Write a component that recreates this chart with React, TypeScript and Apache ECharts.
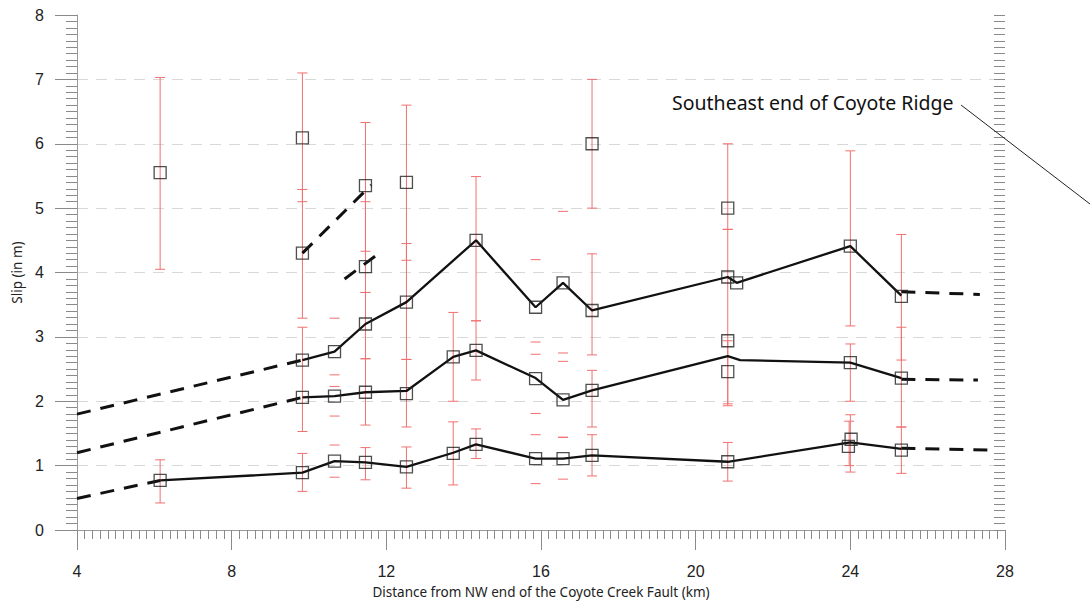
import React, { useEffect, useRef } from "react";
import * as echarts from "echarts";

// Solid profile lines (km, slip m)
const xTop = [9.83, 10.66, 11.46, 12.52, 14.32, 15.86, 16.57, 17.32, 20.83, 21.06, 24.0, 25.32];
const yTop = [2.64, 2.77, 3.2, 3.54, 4.5, 3.46, 3.84, 3.41, 3.93, 3.84, 4.41, 3.64];
const xMid = [9.83, 10.66, 11.46, 12.52, 13.73, 14.32, 15.86, 16.57, 17.32, 20.83, 21.15, 24.0, 25.32];
const yMid = [2.06, 2.08, 2.14, 2.16, 2.69, 2.79, 2.36, 2.02, 2.17, 2.7, 2.64, 2.6, 2.36];
const xLow = [6.15, 9.83, 10.66, 11.46, 12.52, 13.73, 14.32, 15.86, 16.57, 17.32, 20.83, 24.0, 25.32];
const yLow = [0.77, 0.89, 1.07, 1.05, 0.98, 1.2, 1.33, 1.11, 1.11, 1.16, 1.06, 1.36, 1.26];

// Dashed extrapolations: [x0, y0, x1, y1]
const dashedSegments = [
  [4, 1.8, 9.83, 2.64],
  [4, 1.2, 9.83, 2.06],
  [4, 0.49, 6.15, 0.77],
  [25.32, 3.7, 27.35, 3.66],
  [25.32, 2.34, 27.3, 2.33],
  [25.32, 1.27, 27.75, 1.24],
  [9.83, 4.3, 11.61, 5.36],
  [10.92, 3.9, 11.77, 4.28],
];

// Measured offsets (squares)
const squareX = [
  6.15, 6.15,
  9.83, 9.83, 9.83, 9.83, 9.83,
  10.66, 10.66, 10.66,
  11.46, 11.46, 11.46, 11.46, 11.46,
  12.52, 12.52, 12.52, 12.52,
  13.73, 13.73,
  14.32, 14.32, 14.32,
  15.86, 15.86, 15.86,
  16.57, 16.57, 16.57,
  17.32, 17.32, 17.32, 17.32,
  20.83, 20.83, 20.83, 20.83, 20.83,
  21.06,
  24.0, 24.0, 24.02, 23.95,
  25.32, 25.32, 25.32,
];
const squareY = [
  5.55, 0.77,
  6.09, 4.3, 2.64, 2.06, 0.89,
  2.77, 2.08, 1.07,
  5.35, 4.09, 3.2, 2.14, 1.05,
  5.4, 3.54, 2.12, 0.98,
  2.69, 1.19,
  4.5, 2.79, 1.33,
  3.46, 2.35, 1.11,
  3.84, 2.02, 1.11,
  6.0, 3.41, 2.17, 1.16,
  5.0, 3.93, 2.94, 2.46, 1.06,
  3.84,
  4.41, 2.6, 1.41, 1.3,
  3.63, 2.36, 1.24,
];

// Error bars: [x, low, high, drawVerticalLine (1) or caps only (0)]
const errorBars = [
  [6.15, 4.05, 7.03, 1], [6.15, 0.42, 1.09, 1],
  [9.83, 5.1, 7.1, 1], [9.83, 3.29, 5.29, 1], [9.83, 1.53, 3.15, 1], [9.83, 0.6, 1.19, 1],
  [10.66, 2.23, 3.29, 0], [10.66, 1.77, 2.41, 0], [10.66, 0.82, 1.32, 0],
  [11.46, 4.33, 6.33, 1], [11.46, 3.69, 5.1, 1], [11.46, 2.66, 3.69, 1], [11.46, 1.63, 2.66, 1], [11.46, 0.78, 1.28, 1],
  [12.52, 4.19, 6.6, 1], [12.52, 2.65, 4.45, 1], [12.52, 1.6, 2.65, 1], [12.52, 0.65, 1.29, 1],
  [13.73, 2.0, 3.38, 1], [13.73, 0.7, 1.68, 1],
  [14.32, 3.25, 5.49, 1], [14.32, 2.33, 3.25, 1], [14.32, 1.11, 1.57, 1],
  [15.86, 2.92, 4.2, 0], [15.86, 1.81, 2.73, 0], [15.86, 0.72, 1.48, 0],
  [16.57, 2.75, 4.95, 0], [16.57, 1.44, 2.62, 0], [16.57, 0.79, 1.44, 0],
  [17.32, 5.0, 7.0, 1], [17.32, 2.72, 4.29, 1], [17.32, 1.6, 2.48, 1], [17.32, 0.84, 1.48, 1],
  [20.83, 4.67, 6.0, 1], [20.83, 1.96, 4.67, 1], [20.83, 1.93, 2.94, 1], [20.83, 0.76, 1.36, 1],
  [24.0, 3.17, 5.89, 1], [24.0, 2.0, 2.89, 1], [24.0, 0.9, 1.79, 1], [23.97, 1.0, 1.69, 1],
  [25.32, 2.64, 4.59, 1], [25.32, 1.6, 3.15, 1], [25.32, 0.88, 1.6, 1],
];

const xTicks = [4, 8, 12, 16, 20, 24, 28];
const yTicks = [0, 1, 2, 3, 4, 5, 6, 7, 8];

const RED = "#f07070";
const TICK = "#8a8a8a";

export default function App() {
  const ref = useRef<HTMLDivElement>(null);
  useEffect(() => {
    if (!ref.current) return;
    const chart = echarts.init(ref.current, undefined, { renderer: "svg" });

    const solid = (xs: number[], ys: number[]) => ({
      type: "line",
      data: xs.map((x, i) => [x, ys[i]]),
      symbol: "none",
      lineStyle: { color: "#111", width: 2.3 },
      z: 3,
      silent: true,
    });

    const dashed = dashedSegments.map((s) => ({
      type: "line",
      data: [[s[0], s[1]], [s[2], s[3]]],
      symbol: "none",
      lineStyle: { color: "#111", width: 3, type: [14, 10] },
      z: 3,
      silent: true,
    }));

    const option: any = {
      animation: false,
      backgroundColor: "#fff",
      grid: { left: 77, right: 85, top: 15, bottom: 72 },
      xAxis: [
        {
          type: "value",
          position: "bottom",
          min: xTicks[0],
          max: xTicks[xTicks.length - 1],
          interval: 4,
          name: "Distance from NW end of the Coyote Creek Fault (km)",
          nameLocation: "middle",
          nameGap: 55,
          nameTextStyle: { fontFamily: "Noto Sans", fontSize: 13.5, color: "#222" },
          axisLine: { show: true, lineStyle: { color: "#999", width: 1 } },
          axisTick: { show: true, length: 20, lineStyle: { color: TICK } },
          minorTick: { show: true, splitNumber: 20, length: 9, lineStyle: { color: TICK } },
          axisLabel: { margin: 33, fontFamily: "Liberation Sans", fontSize: 16, color: "#222" },
          splitLine: { show: false },
        },
        {
          type: "value",
          position: "top",
          min: xTicks[0],
          max: xTicks[xTicks.length - 1],
          interval: 4,
          axisLine: { show: false },
          axisTick: { show: true, inside: true, length: 18, lineStyle: { color: TICK } },
          minorTick: { show: true, splitNumber: 20, length: 9, lineStyle: { color: TICK } },
          axisLabel: { show: false },
          splitLine: { show: false },
        },
      ],
      yAxis: [
        {
          type: "value",
          position: "left",
          min: yTicks[0],
          max: yTicks[yTicks.length - 1],
          interval: 1,
          name: "Slip (in m)",
          nameLocation: "middle",
          nameGap: 52,
          nameRotate: 90,
          nameTextStyle: { fontFamily: "Noto Sans", fontSize: 13.5, color: "#222" },
          axisLine: { show: true, lineStyle: { color: "#999", width: 1 } },
          axisTick: { show: true, length: 22, lineStyle: { color: TICK } },
          minorTick: { show: true, splitNumber: 10, length: 11, lineStyle: { color: TICK } },
          axisLabel: { margin: 33, fontFamily: "Liberation Sans", fontSize: 16, color: "#222" },
          splitLine: {
            show: true,
            showMinLine: false,
            showMaxLine: false,
            lineStyle: { color: "#d8d8d8", width: 1, type: [11, 8] },
          },
        },
        {
          type: "value",
          position: "right",
          min: yTicks[0],
          max: yTicks[yTicks.length - 1],
          interval: 1,
          axisLine: { show: false },
          axisTick: { show: true, inside: true, length: 11, lineStyle: { color: TICK } },
          minorTick: { show: true, splitNumber: 10, length: 11, lineStyle: { color: TICK } },
          axisLabel: { show: false },
          splitLine: { show: false },
        },
      ],
      series: [
        {
          type: "custom",
          data: errorBars,
          z: 1,
          silent: true,
          encode: { x: 0, y: [1, 2] },
          renderItem: (params: any, api: any) => {
            const x = api.value(0);
            const lo = api.value(1);
            const hi = api.value(2);
            const full = api.value(3);
            const t = api.coord([x, hi]);
            const b = api.coord([x, lo]);
            const hw = 5;
            const st = { stroke: RED, lineWidth: 1 };
            const children: any[] = [];
            if (full) {
              children.push({ type: "line", shape: { x1: t[0], y1: t[1], x2: b[0], y2: b[1] }, style: st });
            }
            children.push({ type: "line", shape: { x1: t[0] - hw, y1: t[1], x2: t[0] + hw, y2: t[1] }, style: st });
            children.push({ type: "line", shape: { x1: b[0] - hw, y1: b[1], x2: b[0] + hw, y2: b[1] }, style: st });
            return { type: "group", children };
          },
        },
        solid(xTop, yTop),
        solid(xMid, yMid),
        solid(xLow, yLow),
        ...dashed,
        {
          type: "scatter",
          data: squareX.map((x, i) => [x, squareY[i]]),
          symbol: "rect",
          symbolSize: 12,
          itemStyle: { color: "rgba(255,255,255,0)", borderColor: "#222", borderWidth: 1.3 },
          z: 5,
          silent: true,
        },
      ],
      graphic: [
        {
          type: "text",
          left: 672,
          top: 92,
          style: {
            text: "Southeast end of Coyote Ridge",
            fontFamily: "Noto Sans",
            fontSize: 19.5,
            fill: "#111",
          },
          z: 10,
        },
        {
          type: "line",
          shape: { x1: 961, y1: 105, x2: 1090, y2: 204 },
          style: { stroke: "#222", lineWidth: 1 },
          z: 10,
        },
      ],
    };
    chart.setOption(option);
    return () => chart.dispose();
  }, []);
  return (
    <div
      ref={ref}
      style={{ position: "fixed", left: 0, top: 0, width: 1090, height: 604, background: "#fff" }}
    />
  );
}
